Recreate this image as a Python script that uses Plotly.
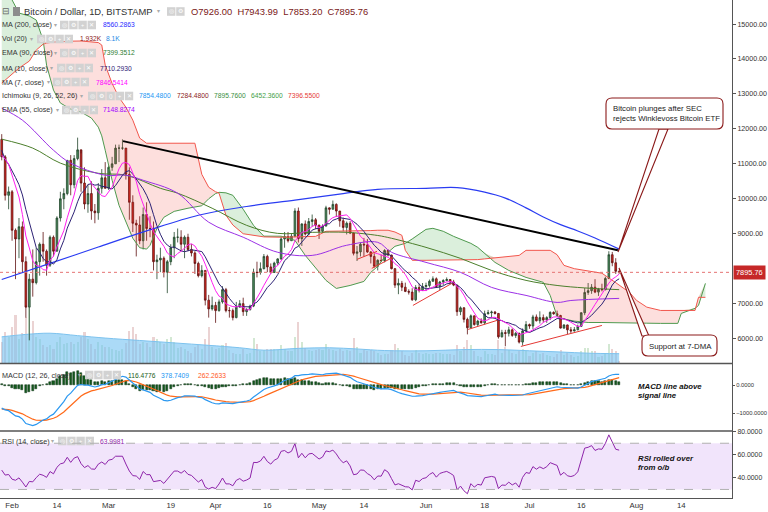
import numpy as np
import pandas as pd
import plotly.graph_objects as go

FONT = "Liberation Sans, Arial"

# ---- daily BTC/USD candles (Bitstamp), 2018-01-29 .. 2018-07-27 ----
first_day = "2018-01-29"
open_first = 11700
close = [
    11200, 10100, 10200,
    9100, 8850, 9200, 8200, 6900, 7700, 7600, 8200, 8700, 8500, 8100, 8900, 8500, 9450,
    10000, 10150, 11100, 10400, 11150, 11400, 10450, 9850, 10150, 9650, 9600, 10300, 10600, 10300,
    10900, 11000, 11450, 11450, 11450, 10700, 9900, 9300, 9250, 8800, 9550, 9150, 9150, 8200, 8250,
    8300, 7900, 8200, 8600, 8900, 8900, 8700, 8900, 8550, 8450, 8150, 7800, 7950, 7100, 6850, 6950,
    6800, 7050, 7400, 6800, 6800, 6600, 6900, 7000, 6770, 6830, 6930, 7900, 7890, 8000, 8350,
    8050, 7890, 8160, 8280, 8850, 8920, 8800, 8930, 9650, 8860, 9280, 8990, 9350, 9400, 9250,
    9070, 9220, 9740, 9700, 9840, 9650, 9370, 9180, 9300, 9020, 8440, 8480, 8700, 8680, 8480,
    8350, 8070, 8240, 8230, 8520, 8390, 8000, 7530, 7580, 7470, 7350, 7330, 7110, 7460, 7380, 7490,
    7520, 7640, 7710, 7490, 7620, 7660, 7690, 7620, 7530, 6770, 6880, 6550, 6310, 6650, 6400,
    6500, 6450, 6710, 6740, 6760, 6720, 6050, 6170, 6150, 6250, 6090, 6150, 5900, 6220, 6400,
    6360, 6620, 6510, 6600, 6530, 6600, 6750, 6710, 6660, 6300, 6390, 6250, 6220, 6250, 6350,
    6740, 7320, 7370, 7470, 7330, 7410, 7400, 7720, 8400, 8170, 7926, 7895.76,
]
high = [
    11850, 11250, 10350,
    10250, 9150, 9450, 9350, 8350, 7850, 8550, 8600, 8750, 9050, 8550, 8950, 8950, 9500,
    10200, 10300, 11100, 11250, 11250, 11750, 11300, 10900, 10400, 10500, 9850, 10450, 10850, 11050,
    10950, 11200, 11550, 11550, 11700, 11450, 10900, 10100, 9400, 9500, 9750, 9900, 9500, 9350, 8400,
    8600, 8350, 8250, 8700, 9050, 9150, 9100, 8950, 9000, 8700, 8500, 8200, 8100, 7950, 7250, 7200,
    7050, 7120, 7500, 7450, 6900, 6860, 7050, 7100, 7170, 6870, 6970, 8000, 8200, 8180, 8420,
    8400, 8150, 8200, 8300, 8920, 9050, 9050, 9000, 9730, 9750, 9300, 9380, 9450, 9550, 9450,
    9250, 9270, 9800, 9750, 9950, 9870, 9650, 9460, 9350, 9360, 9030, 8650, 8750, 8880, 8850,
    8500, 8440, 8270, 8400, 8560, 8550, 8400, 8020, 7720, 7650, 7600, 7410, 7440, 7530, 7570, 7590,
    7600, 7690, 7780, 7750, 7650, 7700, 7750, 7700, 7680, 7540, 6920, 6900, 6600, 6690, 6660,
    6540, 6580, 6800, 6820, 6800, 6790, 6730, 6250, 6250, 6340, 6290, 6190, 6170, 6290, 6500,
    6430, 6680, 6690, 6780, 6690, 6640, 6780, 6780, 6800, 6680, 6410, 6400, 6330, 6330, 6400,
    6750, 7450, 7590, 7560, 7700, 7450, 7570, 7770, 8500, 8480, 8300, 7943.99,
]
low = [
    11100, 9950, 9700,
    8800, 7700, 8300, 7900, 6600, 5950, 7200, 7550, 7800, 8200, 7800, 8050, 8350, 8500,
    9350, 9700, 10100, 10100, 10300, 11100, 10200, 9700, 9600, 9400, 9300, 9400, 10150, 10300,
    10250, 10800, 11000, 11050, 11400, 10550, 9400, 9050, 8350, 8700, 8550, 8800, 8900, 7950, 7700,
    7900, 7750, 7300, 8100, 8300, 8750, 8500, 8300, 8500, 8350, 7850, 7750, 7750, 6950, 6600, 6800,
    6450, 6770, 7000, 6750, 6600, 6520, 6580, 6900, 6650, 6650, 6800, 6900, 7750, 7830, 7980,
    7900, 7850, 7880, 8100, 8250, 8600, 8750, 8800, 8900, 8750, 8650, 8950, 8950, 9200, 9130,
    8850, 9020, 9210, 9550, 9700, 9480, 9200, 9070, 8980, 8990, 8380, 8220, 8350, 8350, 8450,
    8150, 8030, 7950, 8200, 8180, 8350, 7980, 7450, 7270, 7360, 7330, 7260, 7080, 7070, 7320, 7380,
    7360, 7460, 7630, 7450, 7390, 7530, 7640, 7560, 7500, 6650, 6670, 6460, 6120, 6300, 6370,
    6350, 6430, 6400, 6690, 6580, 6690, 6000, 6030, 5780, 6060, 6050, 6020, 5860, 5800, 6210,
    6280, 6270, 6490, 6430, 6460, 6450, 6530, 6680, 6630, 6290, 6280, 6130, 6150, 6200, 6240,
    6330, 6670, 7250, 7280, 7300, 7220, 7350, 7380, 7700, 8070, 7850, 7853.2,
]
volume_k = [
    18, 26, 22,
    30, 40, 20, 25, 38, 46, 35, 22, 20, 15, 14, 15, 12, 18, 22, 16, 17, 18, 16, 18, 22, 26, 20, 16, 12, 18, 15, 14,
    14, 12, 11, 10, 12, 17, 27, 30, 24, 16, 18, 17, 14, 22, 20, 18, 16, 20, 22, 18, 13, 14, 12, 10, 9, 14, 15, 12, 20, 30, 14,
    12, 13, 15, 17, 11, 9, 8, 8, 12, 8, 9, 21, 16, 10, 11, 12, 12, 12, 11, 15, 12, 10, 10, 22, 34, 18, 13, 11, 10, 11,
    12, 11, 16, 12, 11, 10, 12, 10, 11, 10, 21, 14, 9, 12, 10, 11, 10, 9, 7, 8, 8, 11, 16, 13, 10, 7, 6, 9, 11, 9, 8,
    9, 8, 8, 9, 9, 8, 8, 8, 7, 15, 10, 14, 19, 15, 10, 6, 5, 10, 8, 8, 7, 19, 9, 14, 11, 9, 8, 10, 12, 10,
    6, 9, 10, 8, 9, 7, 6, 5, 8, 11, 7, 9, 7, 5, 6, 10, 13, 13, 10, 10, 5, 6, 9, 16, 12, 10, 1.932,
]
# closes of Jan 20-28, only used so the 7/10-day averages exist from the first bar
pre_close = [12800, 11550, 10800, 10900, 11250, 11150, 11100, 11450, 11700]

# ---- long indicators at sample dates ----
ma200_x = ["2018-01-29", "2018-02-12", "2018-02-26", "2018-03-12", "2018-03-27", "2018-04-10", "2018-04-24",
           "2018-05-08", "2018-05-18", "2018-06-01", "2018-06-10", "2018-06-18", "2018-06-24", "2018-06-30",
           "2018-07-05", "2018-07-10", "2018-07-15", "2018-07-20", "2018-07-27"]
ma200_y = [7690, 8150, 8620, 9080, 9530, 9780, 9960, 10150, 10270, 10300, 10320, 10190, 10020, 9740,
           9480, 9260, 9080, 8880, 8560]
ema90_x = ["2018-01-29", "2018-02-07", "2018-02-15", "2018-02-26", "2018-03-06", "2018-03-16", "2018-03-21",
           "2018-03-31", "2018-04-10", "2018-04-19", "2018-04-29", "2018-05-09", "2018-05-18", "2018-05-22",
           "2018-06-01", "2018-06-11", "2018-06-20", "2018-06-30", "2018-07-09", "2018-07-17", "2018-07-27"]
ema90_y = [11705, 11450, 11020, 10730, 10675, 10300, 10160, 9730, 9240, 9010, 9040, 9040, 8950, 8870,
           8610, 8295, 7950, 7665, 7520, 7450, 7400]
ema55_x = ["2018-01-29", "2018-02-04", "2018-02-13", "2018-02-18", "2018-02-28", "2018-03-06", "2018-03-11",
           "2018-03-21", "2018-03-30", "2018-04-09", "2018-04-19", "2018-04-29", "2018-05-09", "2018-05-18",
           "2018-05-22", "2018-06-01", "2018-06-11", "2018-06-20", "2018-06-30", "2018-07-09", "2018-07-13",
           "2018-07-27"]
ema55_y = [12590, 12250, 11390, 11020, 10675, 10675, 10530, 10160, 9330, 8900, 8470, 8380, 8670, 8755,
           8470, 8180, 7895, 7465, 7235, 7035, 7090, 7150]

ichi_x = ["2018-01-29", "2018-02-01", "2018-02-03", "2018-02-06", "2018-02-08", "2018-02-10", "2018-02-11",
          "2018-02-13", "2018-02-15", "2018-02-18", "2018-02-21", "2018-02-24", "2018-02-26", "2018-02-27",
          "2018-02-28", "2018-03-02", "2018-03-04", "2018-03-06", "2018-03-08", "2018-03-10", "2018-03-12",
          "2018-03-13", "2018-03-15", "2018-03-17", "2018-03-20", "2018-03-24", "2018-03-26", "2018-03-28",
          "2018-03-30", "2018-04-01", "2018-04-02", "2018-04-04", "2018-04-06", "2018-04-09", "2018-04-12",
          "2018-04-15", "2018-04-20", "2018-04-24", "2018-04-27", "2018-04-30", "2018-05-03", "2018-05-06",
          "2018-05-10", "2018-05-14", "2018-05-16", "2018-05-18", "2018-05-21", "2018-05-23", "2018-05-25",
          "2018-05-26", "2018-05-28", "2018-06-01", "2018-06-03", "2018-06-06", "2018-06-09", "2018-06-14",
          "2018-06-16", "2018-06-18", "2018-06-21", "2018-06-25", "2018-06-28", "2018-06-30", "2018-07-05",
          "2018-07-07", "2018-07-09", "2018-07-11", "2018-07-14", "2018-07-18", "2018-07-22", "2018-07-26",
          "2018-07-30", "2018-08-01", "2018-08-04", "2018-08-08", "2018-08-13", "2018-08-14", "2018-08-18",
          "2018-08-19", "2018-08-21"]
span_a = [16000, 15690, 15315, 15230, 15115, 14540, 13825, 13110, 12740, 12565, 12480, 12310, 12050, 11800,
          11390, 10530, 9815, 9330, 8870, 8600, 8560, 8670, 9155, 9470, 9640, 9730, 9760, 9800,
          10000, 10150, 10185, 10170, 10100, 9700, 9240, 8930, 8930, 8810, 8380, 8010, 7665, 7435,
          7520, 7635, 7895, 8065, 8470, 8640, 8700, 8725, 8850, 9125, 9155, 9070, 8925, 8725,
          8610, 8440, 8180, 7950, 7830, 7750, 7610, 7235, 6635, 6560, 6500, 6460, 6460, 6460,
          6450, 6440, 6440, 6435, 6435, 6720, 6865, 6950, 7580]
span_b = [13310, 13580, 13740, 13940, 14255, 14425, 14455, 14485, 14500, 14510, 14515, 14500, 14470, 14400,
          13825, 13300, 12900, 12620, 12250, 11735, 11590, 11590, 11590, 11590, 11590, 11590, 11590, 10700,
          10330, 10200, 10160, 9530, 9250, 9000, 8955, 8910, 8900, 8910, 8920, 8925, 9070, 9070,
          9080, 9090, 9090, 9100, 9100, 9050, 8955, 8525, 8240, 8240, 8240, 8240, 8240, 8240,
          8260, 8280, 8310, 8340, 8380, 8525, 8525, 8525, 8400, 8095, 8000, 7930, 7870, 7600,
          7320, 7095, 6900, 6805, 6805, 6805, 6805, 7180, 7180]

vol_ma_x = ["2018-01-29", "2018-02-05", "2018-02-12", "2018-02-20", "2018-02-28", "2018-03-10", "2018-03-20",
            "2018-03-30", "2018-04-08", "2018-04-15", "2018-04-25", "2018-05-04", "2018-05-12", "2018-05-20",
            "2018-06-01", "2018-06-12", "2018-06-22", "2018-07-01", "2018-07-10", "2018-07-18", "2018-07-27"]
vol_ma_y = [22, 24, 25, 23, 21, 19, 17, 15, 13, 11, 12.5, 13, 12, 10.7, 10.5, 11.5, 11.5, 10.5, 9.5, 8.5, 8.1]

# hand-drawn lines
trend_x = ["2018-03-05 04:00", "2018-07-26 15:00"]
trend_y = [11650, 8525]
support_x = [["2018-05-12 00:00", "2018-05-17 19:00"], ["2018-05-16 07:00", "2018-05-22 10:00"],
             ["2018-05-28 05:00", "2018-06-08 12:00"], ["2018-06-13 05:00", "2018-06-21 14:00"],
             ["2018-06-28 12:00", "2018-07-22 00:00"]]
support_y = [[8267, 8496], [8010, 8325], [6949, 7580], [6262, 6520], [5775, 6376]]

# seeds for the oscillators at Jan 28 (estimated from the panels)
macd_seed = (11700, 12550, -870)     # ema12, ema26, signal
rsi_seed = (420, 440)                 # avg gain, avg loss

x_tick_dates = ["2018-02-01", "2018-02-14", "2018-03-01", "2018-03-19", "2018-04-01", "2018-04-16", "2018-05-01",
                "2018-05-14", "2018-06-01", "2018-06-18", "2018-07-01", "2018-07-16", "2018-08-01", "2018-08-14"]
x_tick_text = ["Feb", "14", "Mar", "19", "Apr", "16", "May", "14", "Jun", "18", "Jul", "16", "Aug", "14"]
price_ticks = [6000, 7000, 9000, 10000, 11000, 12000, 13000, 14000, 15000]   # 8000 sits under the price tag

last_price = 7895.76

# ---------------------------------------------------------------------------
dates = pd.date_range(first_day, periods=len(close), freq="D")
opens = [open_first] + close[:-1]
up = [c >= o for c, o in zip(close, opens)]

s = pd.Series(pre_close + close)
ma7 = s.rolling(7).mean().iloc[len(pre_close):].values
ma10 = s.rolling(10).mean().iloc[len(pre_close):].values


def ema_run(seed, vals, span):
    k = 2 / (span + 1)
    out, e = [], seed
    for v in vals:
        e = e + k * (v - e)
        out.append(e)
    return np.array(out)


e12 = ema_run(macd_seed[0], close, 12)
e26 = ema_run(macd_seed[1], close, 26)
macd = e12 - e26
signal = ema_run(macd_seed[2], macd, 9)
hist = macd - signal

g, l_ = rsi_seed
rsi = []
for d in np.diff([open_first] + close):
    g = (g * 13 + max(d, 0)) / 14
    l_ = (l_ * 13 + max(-d, 0)) / 14
    rsi.append(100 - 100 / (1 + g / l_))

DAY = 86400000
fig = go.Figure()

# volume (base axis of the price pane)
fig.add_trace(go.Bar(x=dates, y=volume_k, width=0.6 * DAY, yaxis="y", xaxis="x",
                     marker_color=["rgba(110,180,110,0.30)" if u else "rgba(190,110,110,0.30)" for u in up],
                     marker_line_width=0))
fig.add_trace(go.Scatter(x=vol_ma_x, y=vol_ma_y, yaxis="y", mode="lines", line_shape="spline",
                         line=dict(color="#7cc2ee", width=1), fill="tozeroy",
                         fillcolor="rgba(120,195,242,0.62)"))

# ichimoku cloud
top = np.maximum(span_a, span_b)
fig.add_trace(go.Scatter(x=ichi_x, y=span_b, yaxis="y2", mode="lines", line=dict(width=0)))
fig.add_trace(go.Scatter(x=ichi_x, y=top, yaxis="y2", mode="lines", line=dict(width=0),
                         fill="tonexty", fillcolor="rgba(76,175,80,0.20)"))
fig.add_trace(go.Scatter(x=ichi_x, y=span_a, yaxis="y2", mode="lines", line=dict(width=0)))
fig.add_trace(go.Scatter(x=ichi_x, y=top, yaxis="y2", mode="lines", line=dict(width=0),
                         fill="tonexty", fillcolor="rgba(244,67,54,0.17)"))
fig.add_trace(go.Scatter(x=ichi_x, y=span_a, yaxis="y2", mode="lines", line=dict(color="#4f9a4f", width=1)))
fig.add_trace(go.Scatter(x=ichi_x, y=span_b, yaxis="y2", mode="lines", line=dict(color="#f2564c", width=1)))

# moving averages
fig.add_trace(go.Scatter(x=ma200_x, y=ma200_y, yaxis="y2", mode="lines", line_shape="spline",
                         line=dict(color="#2a3cf2", width=1.2)))
fig.add_trace(go.Scatter(x=ema90_x, y=ema90_y, yaxis="y2", mode="lines", line_shape="spline",
                         line=dict(color="#4c7f2c", width=1)))
fig.add_trace(go.Scatter(x=ema55_x, y=ema55_y, yaxis="y2", mode="lines", line_shape="spline",
                         line=dict(color="#9b30e6", width=1)))

fig.add_trace(go.Candlestick(
    x=dates, open=opens, high=high, low=low, close=close, yaxis="y2", xaxis="x", whiskerwidth=0,
    increasing=dict(line=dict(color="#22452b", width=0.8), fillcolor="#4b8d5d"),
    decreasing=dict(line=dict(color="#5e1010", width=0.8), fillcolor="#d8281f"),
))
fig.add_trace(go.Scatter(x=dates, y=ma10, yaxis="y2", mode="lines", line=dict(color="#2d2275", width=1)))
fig.add_trace(go.Scatter(x=dates, y=ma7, yaxis="y2", mode="lines", line=dict(color="#ff1ef0", width=1)))

fig.add_trace(go.Scatter(x=trend_x, y=trend_y, yaxis="y2", mode="lines", line=dict(color="black", width=2)))
for sx, sy in zip(support_x, support_y):
    fig.add_trace(go.Scatter(x=sx, y=sy, yaxis="y2", mode="lines", line=dict(color="#e53935", width=1)))

# MACD
fig.add_trace(go.Bar(x=dates, y=hist, yaxis="y3", width=0.6 * DAY, marker_color="#145c1e",
                     marker_line=dict(color="#0b2e10", width=0.5)))
fig.add_trace(go.Scatter(x=dates, y=signal, yaxis="y3", mode="lines", line=dict(color="#ff6a1a", width=1.2)))
fig.add_trace(go.Scatter(x=dates, y=macd, yaxis="y3", mode="lines", line=dict(color="#2b98f0", width=1.2)))

# RSI
fig.add_trace(go.Scatter(x=dates, y=rsi, yaxis="y4", mode="lines", line=dict(color="#8e24aa", width=1)))

# ---------------------------------------------------------------------------
PW, PH = 732, 498


def px(x):
    return x / PW


def py(y):
    return 1 - y / PH


ann, shp = [], []


def txt(x, y, s, size=7.2, color="#333", anchor="left"):
    ann.append(dict(x=px(x), y=py(y), xref="paper", yref="paper", text=s, showarrow=False,
                    xanchor=anchor, yanchor="middle", borderpad=0,
                    font=dict(family=FONT, size=size, color=color)))


def icons(x0, y, n):
    glyphs = ["◎", "⚙", "()", "+", "✕"] if n == 5 else ["◎", "⚙", "+", "✕"][:n]
    for i in range(n):
        a = x0 + i * 9.2
        shp.append(dict(type="rect", xref="paper", yref="paper", x0=px(a), x1=px(a + 8.4),
                        y0=py(y + 4.3), y1=py(y - 4.3), fillcolor="#d2d2d2", line_width=0, layer="above"))
        txt(a + 4.2, y, glyphs[i], size=5.5, color="white", anchor="center")


def rrect(x0, y0, x1, y1, r):
    X0, X1, Y0, Y1 = px(x0), px(x1), py(y0), py(y1)
    rx, ry = r / PW, r / PH
    return (f"M {X0+rx},{Y0} L {X1-rx},{Y0} Q {X1},{Y0} {X1},{Y0-ry} L {X1},{Y1+ry} "
            f"Q {X1},{Y1} {X1-rx},{Y1} L {X0+rx},{Y1} Q {X0},{Y1} {X0},{Y1+ry} "
            f"L {X0},{Y0-ry} Q {X0},{Y0} {X0+rx},{Y0} Z")


def poly(pts):
    return "M " + " L ".join(f"{px(a)},{py(b)}" for a, b in pts) + " Z"


# header legend
txt(1, 11.5, "⊟", size=9, color="#666")
shp.append(dict(type="rect", xref="paper", yref="paper", x0=px(13), x1=px(20), y0=py(16), y1=py(7),
                fillcolor="#8d8d8d", line_width=0))
txt(23, 11.5, "Bitcoin / Dollar, 1D, BITSTAMP", size=9.4, color="#333")
txt(156, 11.5, "▾", size=6, color="#aaa")
icons(167, 11.5, 2)
txt(190, 11.5, "O7926.00  H7943.99  L7853.20  C7895.76", size=9.4, color="#7a1818")

rows = [
    (25, "MA (200, close)", 53, 60, 4, [(102, "8560.2863", "#2a2aff")]),
    (39, "Vol (20)", 29, 37, 4, [(79, "1.932K", "#8b1a1a"), (105, "8.1K", "#1e88e5")]),
    (53, "EMA (90, close)", 53, 60, 4, [(102, "7399.3512", "#2e7d32")]),
    (68, "MA (10, close)", 49, 57, 4, [(99, "7710.2930", "#2d2275")]),
    (82, "MA (7, close)", 46, 53, 4, [(95, "7846.5414", "#ff00ff")]),
    (96, "Ichimoku (9, 26, 52, 26)", 79, 88, 5,
     [(138, "7854.4800", "#2196f3"), (176, "7284.4800", "#8b1a1a"), (213, "7895.7600", "#388e3c"),
      (250, "6452.3600", "#43a047"), (287, "7396.5500", "#e53935")]),
    (110, "EMA (55, close)", 55, 62, 4, [(102, "7148.8274", "#a100ff")]),
    (375, "MACD (12, 26, close)", 77, 85, 4,
     [(127, "116.4776", "#1b5e20"), (160, "378.7409", "#2196f3"), (197, "262.2633", "#ff5722")]),
    (441, "RSI (14, close)", 50, 58, 4, [(99, "63.9981", "#8e24aa")]),
]
for y, label, xa, xi, n, vals in rows:
    txt(1, y, label, size=7.2)
    txt(xa, y, "▾", size=5.5, color="#aaa")
    icons(xi, y, n)
    for x, v, c in vals:
        txt(x, y, v, size=6.7, color=c)

# callouts
RED = "#8b1a1a"
shp.append(dict(type="path", xref="paper", yref="paper", path=poly([(659, 129), (618, 252), (668, 129)]),
                fillcolor="white", line=dict(color=RED, width=1.1), layer="above"))
shp.append(dict(type="path", xref="paper", yref="paper", path=rrect(606, 98, 723, 129, 6),
                fillcolor="white", line=dict(color=RED, width=1.1), layer="above"))
shp.append(dict(type="path", xref="paper", yref="paper", path=poly([(642, 336), (619, 268), (649, 336)]),
                fillcolor="white", line=dict(color=RED, width=1.1), layer="above"))
shp.append(dict(type="path", xref="paper", yref="paper", path=rrect(642, 335, 717, 356, 6),
                fillcolor="white", line=dict(color=RED, width=1.1), layer="above"))
txt(612, 108, "Bitcoin plunges after SEC", size=7.8, color="#222")
txt(612, 118, "rejects Winklevoss Bitcoin ETF", size=7.8, color="#222")
txt(648, 346, "Support at 7-DMA", size=7.8, color="#222")

txt(637, 386, "<b><i>MACD line above</i></b>", size=7.8, color="#111")
txt(637, 395.5, "<b><i>signal line</i></b>", size=7.8, color="#111")
txt(637, 458, "<b><i>RSI rolled over</i></b>", size=7.8, color="#111")
txt(637, 467.5, "<b><i>from o/b</i></b>", size=7.8, color="#111")

# current price line + tag
shp.append(dict(type="line", xref="paper", yref="y2", x0=0, x1=1, y0=last_price, y1=last_price,
                line=dict(color="#e57373", width=1, dash="dot")))
ann.append(dict(x=1, y=last_price, xref="paper", yref="y2", text=f"{last_price:.2f}", showarrow=False,
                xanchor="left", yanchor="middle", xshift=1, bgcolor="#c62828", borderpad=2,
                font=dict(family=FONT, size=7.4, color="white")))

# RSI band and pane separators
shp.append(dict(type="rect", xref="paper", yref="y4", x0=0, x1=1, y0=30, y1=70,
                fillcolor="rgba(170,90,230,0.16)", line_width=0, layer="below"))
for lvl in (30, 70):
    shp.append(dict(type="line", xref="paper", yref="y4", x0=0, x1=1, y0=lvl, y1=lvl,
                    line=dict(color="#b0b0b0", width=1, dash="dash")))
for yy in (363.5, 431):
    shp.append(dict(type="line", xref="paper", yref="paper", x0=0, x1=1, y0=py(yy), y1=py(yy),
                    line=dict(color="#555", width=1.3)))


def yax(size, ticklen=3):
    return dict(side="right", showline=True, linecolor="#555", linewidth=1, ticks="outside", ticklen=ticklen,
                tickcolor="#555", tickfont=dict(family=FONT, size=size, color="#333"), showgrid=False,
                zeroline=False, anchor="x", automargin=False)


fig.update_layout(
    width=768, height=512, margin=dict(l=0, r=36, t=0, b=14),
    paper_bgcolor="white", plot_bgcolor="white", showlegend=False, bargap=0,
    xaxis=dict(domain=[0, 1], anchor="y4", type="date", range=["2018-01-28 12:00", "2018-08-28 17:00"],
               tickvals=x_tick_dates, ticktext=x_tick_text, tickfont=dict(family=FONT, size=7.8, color="#333"),
               showgrid=False, showline=True, linecolor="#555", ticks="", automargin=False,
               rangeslider=dict(visible=False)),
    yaxis=dict(domain=[py(363.5), 1], range=[0, 300], visible=False, anchor="x", automargin=False),
    yaxis2=dict(overlaying="y", range=[5287, 15688], tickvals=price_ticks, tickformat=".2f", **yax(7.1)),
    yaxis3=dict(domain=[py(431), py(364)], range=[-1643, 750], tickvals=[0, -1000], tickformat=".4f",
                **yax(5.8, ticklen=2)),
    yaxis4=dict(domain=[0, py(431)], range=[22.6, 80.6], tickvals=[40, 60, 80], tickformat=".4f",
                **yax(6.9)),
    annotations=ann, shapes=shp,
)
fig.update_traces(hoverinfo="skip", selector=dict(type="scatter"))

# the page body keeps its default 8px margin otherwise
fig.write_html("out.html", config={"displayModeBar": False},
               post_script="document.body.style.margin='0';")
